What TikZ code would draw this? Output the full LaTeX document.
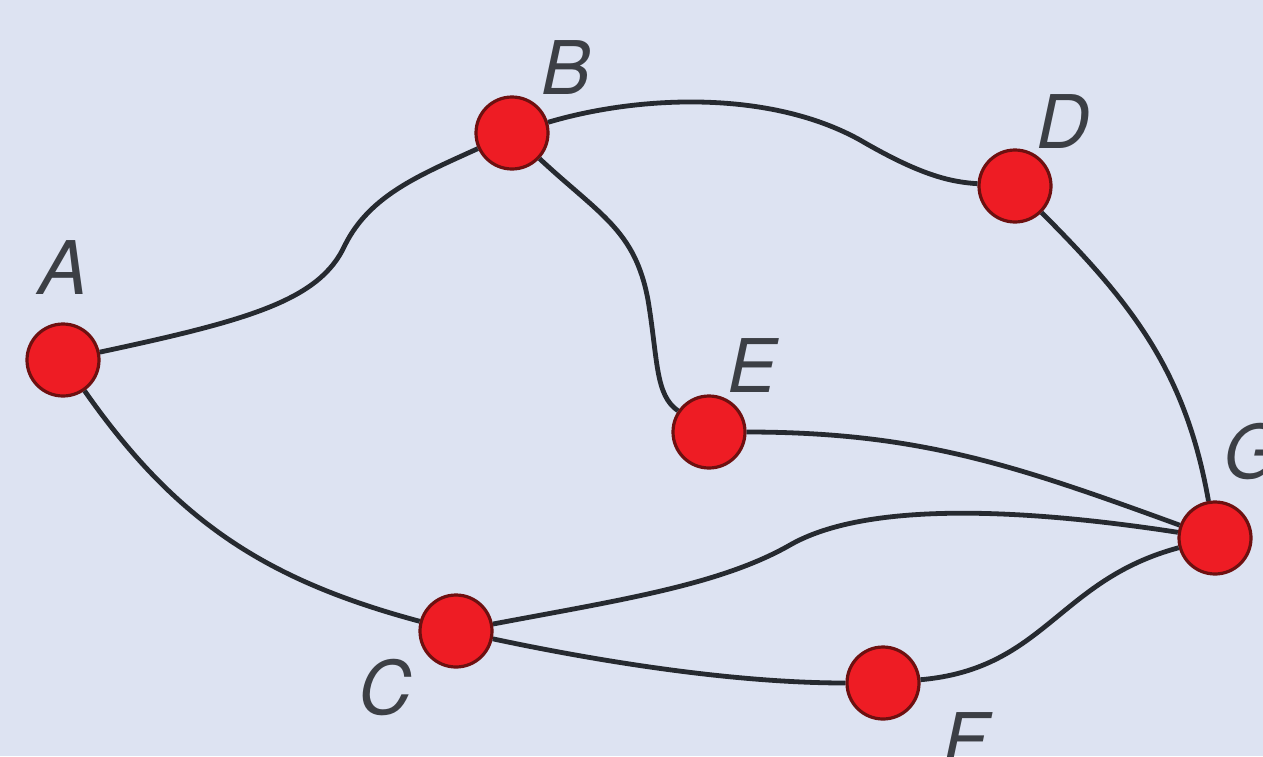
\documentclass[tikz,border=0pt]{standalone}
\usepackage{fontspec}
\setsansfont{TeX Gyre Heros}
\definecolor{bgblue}{HTML}{DDE3F2}
\definecolor{vred}{HTML}{EE1C24}
\definecolor{vrim}{HTML}{6E1010}
\definecolor{edgegray}{HTML}{262A30}
\begin{document}
\begin{tikzpicture}[x=0.5pt,y=-0.5pt,
  vertex/.style={circle,fill=vred,draw=vrim,line width=1.6pt,minimum size=36pt,inner sep=0pt},
  vlabel/.style={font=\sffamily\itshape\fontsize{37}{40}\selectfont,text=edgegray!90,inner sep=0pt},
  edge/.style={draw=edgegray,line width=2.4pt}]
\fill [bgblue] (0,0) rectangle (1263,756);
\useasboundingbox (0,0) rectangle (1263,756);
% vertices
\node [vertex] (A) at (63,360) {};
\node [vertex] (B) at (512,133) {};
\node [vertex] (C) at (456,631) {};
\node [vertex] (D) at (1015,186) {};
\node [vertex] (E) at (709,432) {};
\node [vertex] (F) at (883,683) {};
\node [vertex] (G) at (1215,538) {};
% edges
\draw [edge] (A) .. controls (250,320) and (320,300) .. (345,245)
  .. controls (370,195) and (420,175) .. (B);
\draw [edge] (B) .. controls (640,95) and (770,90) .. (860,140)
  .. controls (920,175) and (950,182) .. (D);
\draw [edge] (B) .. controls (600,215) and (635,230) .. (648,300)
  .. controls (658,360) and (655,395) .. (E);
\draw [edge] (D) to[out=-45,in=100] (G);
\draw [edge] (E) to[out=0,in=160] (G);
\draw [edge] (A) to[out=-55,in=165] (C);
\draw [edge] (C) .. controls (620,600) and (720,585) .. (790,545)
  .. controls (860,505) and (1000,505) .. (G);
\draw [edge] (C) to[out=-12,in=180,looseness=0.8] (F);
\draw [edge] (F) to[out=5,in=195,looseness=1.1] (G);
% labels
\node [vlabel] (lA) at (63,268) {A};
\node [vlabel] (lB) at (566,68) {B};
\node [vlabel] (lC) at (385,688) {C};
\node [vlabel] (lD) at (1063,122) {D};
\node [vlabel] (lE) at (752,366) {E};
\node [vlabel] (lF) at (965,740) {F};
\node [vlabel] (lG) at (1252,452) {G};
\end{tikzpicture}
\end{document}
